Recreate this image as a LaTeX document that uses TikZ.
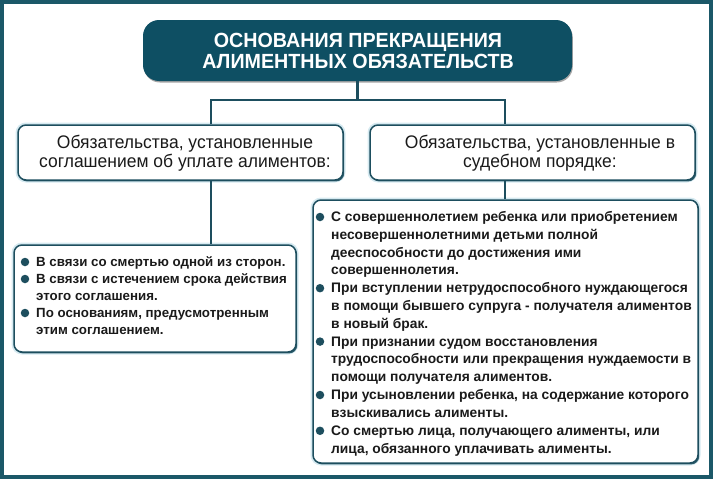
\documentclass[tikz,border=0pt]{standalone}
\usepackage{fontspec}
\setmainfont{Liberation Sans}
\newfontfamily\condfont[FakeStretch=0.96]{Liberation Sans}
\usetikzlibrary{shadows}
\definecolor{titlefill}{HTML}{0E4F63}
\definecolor{framecol}{HTML}{1B5868}
\definecolor{edgecol}{HTML}{1D4E5E}
\definecolor{glowcol}{HTML}{D6EAF1}
\definecolor{txtcol}{HTML}{1A1A1A}
\newcommand\tline[4]{\node[itemtxt] (#1) at (#2,#3) {#4};}
\newcommand\lline[4]{\node[itemtxt, font=\fontsize{13.3}{17}\selectfont\bfseries] (#1) at (#2,#3) {#4};}
\newcommand\bdot[3]{\node[bulletdot] (#1) at (#2,#3) {};}
\begin{document}
\begin{tikzpicture}[x=1pt,y=-1pt,
  box/.style={draw=edgecol, line width=1.5pt, rounded corners=8pt, fill=white,
    preaction={draw=glowcol, line width=5pt},
    drop shadow={shadow xshift=1.2pt, shadow yshift=-1.4pt, fill=edgecol, opacity=0.9}},
  titlebox/.style={fill=titlefill, rounded corners=16pt,
    drop shadow={shadow xshift=0.8pt, shadow yshift=-1.5pt, fill=black, opacity=0.35}},
  titletext/.style={text=white, font=\condfont\fontsize{20.5}{21}\selectfont\bfseries, align=center},
  midtxt/.style={font=\condfont\fontsize{18.2}{19.5}\selectfont, align=center, text=txtcol},
  itemtxt/.style={anchor=base west, inner sep=0pt, text=txtcol, font=\fontsize{13.8}{17}\selectfont\bfseries},
  bulletdot/.style={circle, fill=edgecol, inner sep=0pt, minimum size=8.5pt},
  conn/.style={draw=edgecol, line width=2.8pt}]
\useasboundingbox (0,0) rectangle (713,479);
\draw[framecol, line width=4.5pt] (1.5,1.5) rectangle (711,477);
% junction coordinates
\coordinate (jl) at (211,100);
\coordinate (jr) at (505,100);
% boxes
\node[titlebox, minimum width=429pt, minimum height=61pt] (title) at (357.5,50.5) {};
\node[box, minimum width=325pt, minimum height=55pt] (lmid) at (180.5,152.5) {};
\node[box, minimum width=325pt, minimum height=55pt] (rmid) at (532.5,152.5) {};
\node[box, minimum width=282pt, minimum height=107pt] (llow) at (155,298.5) {};
\node[box, minimum width=385pt, minimum height=263pt] (rlow) at (505.5,331.5) {};
% connectors
\draw[conn] (title.south) -- (title.south |- jl);
\draw[conn] (lmid.north -| jl) -- (jl) -- (jr) -- (rmid.north -| jr);
\draw[conn] (lmid.south -| jl) -- (llow.north -| jl);
\draw[conn] (rmid.south -| jr) -- (rlow.north -| jr);
% texts
\node[titletext] (titletxt) at (358,50.5) {ОСНОВАНИЯ ПРЕКРАЩЕНИЯ\\АЛИМЕНТНЫХ ОБЯЗАТЕЛЬСТВ};
\node[midtxt] (lmidtxt) at (185,153) {Обязательства, установленные\\соглашением об уплате алиментов:};
\node[midtxt] (rmidtxt) at (540,153) {Обязательства, установленные в\\судебном порядке:};
% left items
\bdot{lb1}{25}{262}
\lline{ll1}{36}{266.5}{В связи со смертью одной из сторон.}
\bdot{lb2}{25}{279}
\lline{ll2}{36}{283.5}{В связи с истечением срока действия}
\lline{ll3}{36}{300.5}{этого соглашения.}
\bdot{lb3}{25}{313}
\lline{ll4}{36}{317.5}{По основаниям, предусмотренным}
\lline{ll5}{36}{334.5}{этим соглашением.}
% right items
\bdot{rb1}{320}{217}
\tline{rl1}{331}{221.5}{С совершеннолетием ребенка или приобретением}
\tline{rl2}{331}{239.3}{несовершеннолетними детьми полной}
\tline{rl3}{331}{257.1}{дееспособности до достижения ими}
\tline{rl4}{331}{274.9}{совершеннолетия.}
\bdot{rb2}{320}{288.2}
\tline{rl5}{331}{292.7}{При вступлении нетрудоспособного нуждающегося}
\tline{rl6}{331}{310.5}{в помощи бывшего супруга - получателя алиментов}
\tline{rl7}{331}{328.3}{в новый брак.}
\bdot{rb3}{320}{341.6}
\tline{rl8}{331}{346.1}{При признании судом восстановления}
\tline{rl9}{331}{363.9}{трудоспособности или прекращения нуждаемости в}
\tline{rl10}{331}{381.7}{помощи получателя алиментов.}
\bdot{rb4}{320}{395}
\tline{rl11}{331}{399.5}{При усыновлении ребенка, на содержание которого}
\tline{rl12}{331}{417.3}{взыскивались алименты.}
\bdot{rb5}{320}{430.8}
\tline{rl13}{331}{435.3}{Со смертью лица, получающего алименты, или}
\tline{rl14}{331}{453.1}{лица, обязанного уплачивать алименты.}
\end{tikzpicture}
\end{document}
